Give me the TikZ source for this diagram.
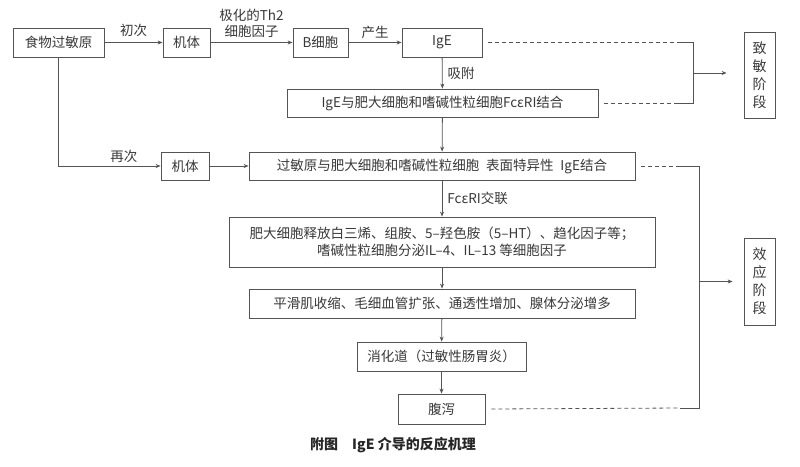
\documentclass[tikz,border=0pt]{standalone}
\usepackage{fontspec}
\setmainfont{Noto Sans CJK SC}
\usetikzlibrary{arrows.meta, positioning}
\definecolor{LineGray}{rgb}{0.33, 0.33, 0.33}
\definecolor{TextGray}{rgb}{0.22, 0.22, 0.22}

\begin{document}
\begin{tikzpicture}[
    x=1pt, y=-1pt,
    font=\fontsize{13.5}{16.5}\selectfont,
    box/.style={draw=LineGray, line width=0.8pt, text=TextGray, align=center,
        inner sep=0pt, minimum height=29pt},
    phase/.style={box, minimum width=31pt, font=\fontsize{14}{18}\selectfont},
    flow/.style={-{Stealth[length=5pt, width=4pt]}, line width=0.8pt, LineGray},
    stub/.style={line width=0.8pt, LineGray},
    link/.style={dash pattern=on 4pt off 3pt, line width=0.8pt, LineGray},
    tag/.style={text=TextGray, inner sep=3pt},
]
\useasboundingbox (0,0) rectangle (800,466);

% ============ sensitization: first contact ============
\node[box, minimum width=91pt] (food)  at (58.5,42.5) {食物过敏原};
\node[box, minimum width=47pt] (body1) at (186.5,42.5) {机体};
\node[box, minimum width=55pt] (bcell) at (320.5,42.5) {B细胞};
\node[box, minimum width=80pt] (ige)   at (442,42.5)   {IgE};
\node[box, minimum width=311pt, minimum height=28pt] (bind) at (442.5,103)
    {IgE与肥大细胞和嗜碱性粒细胞FcεRI结合};

\draw[flow] (food) -- node[tag, above, inner sep=5pt] {初次} (body1);
\draw[flow] (body1) -- node[tag, above, align=center, inner sep=4pt] {极化的Th2\\细胞因子} (bcell);
\draw[flow] (bcell) -- node[tag, above] {产生} (ige);
\draw[flow] (ige) -- node[tag, right, inner sep=5pt] {吸附} (bind);

% ============ effect: second contact ============
\node[box, minimum width=48pt, minimum height=28pt] (body2) at (185,166) {机体};
\node[box, minimum width=386pt, minimum height=28pt] (combine) at (442,166)
    {过敏原与肥大细胞和嗜碱性粒细胞\enspace 表面特异性\enspace IgE结合};
\node[box, minimum width=426pt, minimum height=50pt] (release) at (442,242)
    {肥大细胞释放白三烯、组胺、5–羟色胺（5–HT）、趋化因子等；\\
     嗜碱性粒细胞分泌IL–4、IL–13 等细胞因子};
\node[box, minimum width=386pt] (smooth) at (442,303.5)
    {平滑肌收缩、毛细血管扩张、通透性增加、腺体分泌增多};
\node[box, minimum width=169pt] (gut) at (441.5,356.5) {消化道（过敏性肠胃炎）};
\node[box, minimum width=87pt, minimum height=30pt] (diarrhea) at (441.5,409) {腹泻};

\draw[flow] (bind) -- (combine);
\draw[flow] (food.south) |- node[tag, above, pos=0.82] {再次} (body2.west);
\draw[flow] (body2) -- (combine);
\draw[flow] (combine) -- node[tag, right, inner sep=5pt] {FcεRI交联} (release);
\foreach \p/\q in {release/smooth,smooth/gut,gut/diarrhea} \draw[flow] (\p)--(\q);

% ============ phases ============
\node[phase, minimum height=86pt] (sens)   at (759.5,75)    {致\\敏\\阶\\段};
\node[phase, minimum height=87pt] (effect) at (759.5,281.5) {效\\应\\阶\\段};

\coordinate (s1a) at (678,42.5);
\coordinate (s1)  at (693,42.5);
\coordinate (s2a) at (678,103);
\coordinate (s2)  at (693,103);
\coordinate (s3)  at (693,73);
\draw[link] ([xshift=6pt]ige.east) -- (s1a);
\draw[link] ([xshift=6pt]bind.east) -- (s2a);
\draw[stub] (s1a) -- (s1) -- (s2) -- (s2a);
\draw[flow, shorten >=17pt] (s3) -- (s3 -| sens.west);

\coordinate (e1a) at (680,166);
\coordinate (e1)  at (699,166);
\coordinate (e2a) at (680,408);
\coordinate (e2)  at (699,408);
\coordinate (e3)  at (699,281.5);
\draw[link] ([xshift=6pt]combine.east) -- (e1a);
\draw[link] ([xshift=6pt]diarrhea.east) -- (e2a);
\draw[stub] (e1a) -- (e1) -- (e2) -- (e2a);
\draw[flow, shorten >=11pt] (e3) -- (e3 -| effect.west);

% ============ caption ============
\node[font=\fontsize{14}{17}\selectfont\bfseries, text=black!85] (cap) at (393,445)
    {附图\quad IgE 介导的反应机理};

\end{tikzpicture}
\end{document}
